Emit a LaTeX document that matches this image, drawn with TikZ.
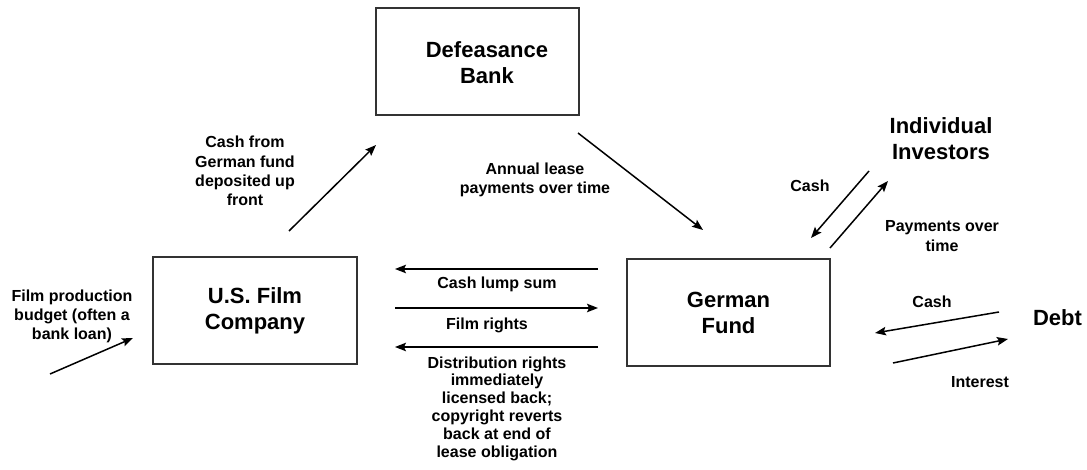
\documentclass[tikz,border=0pt]{standalone}
\usepackage{fontspec}
\setmainfont{Liberation Sans}
\usetikzlibrary{arrows.meta}
\tikzset{
  box/.style={draw=black!80, line width=1.3pt, rectangle, inner sep=0pt, align=center,
    font=\fontsize{22}{26}\selectfont\bfseries},
  big/.style={align=center, inner sep=0pt, font=\fontsize{22}{26}\selectfont\bfseries},
  small/.style={align=center, inner sep=0pt, font=\fontsize{16}{19.3}\selectfont\bfseries},
  flow/.style={draw=black, line width=1.5pt, -{Stealth[length=11pt,width=8.5pt,inset=2pt]}}
}
\begin{document}
\begin{tikzpicture}[x=1pt,y=-1pt]
\useasboundingbox (0,0) rectangle (1087,470);
% boxes
\node[box, minimum width=203pt, minimum height=107pt] (bank) at (477.5,61.5) {};
\node[big] (banktext) at (487,63) {Defeasance\\Bank};
\node[box, minimum width=204pt, minimum height=107pt] (us) at (255,310.5) {U.S. Film\\Company};
\node[box, minimum width=203pt, minimum height=107pt] (gf) at (728.5,312.5) {German\\Fund};
\node[big] (inv) at (941,138.5) {Individual\\Investors};
\node[big] (debt) at (1057.5,318) {Debt};
% labels
\node[small] (lbudget) at (72,316.5) {Film production\\budget (often a\\bank loan)};
\node[small] (lcashfrom) at (245,171) {Cash from\\German fund\\deposited up\\front};
\node[small] (llease) at (535,180) {Annual lease\\payments over time};
\node[small] (llump) at (497,284) {Cash lump sum};
\node[small] (lrights) at (487,325) {Film rights};
\node[small, font=\fontsize{16}{17.8}\selectfont\bfseries] (ldist) at (497,408.5)
  {Distribution rights\\immediately\\licensed back;\\copyright reverts\\back at end of\\lease obligation};
\node[small] (lcashinv) at (810,186) {Cash};
\node[small] (lpay) at (942,236) {Payments over\\time};
\node[small] (lcashdebt) at (932,302) {Cash};
\node[small] (linterest) at (980,382) {Interest};
% arrow end points
\coordinate (b1) at (50,374);   \coordinate (b2) at (133,338);
\coordinate (c1) at (289,231);  \coordinate (c2) at (376,145);
\coordinate (a1) at (578,133);  \coordinate (a2) at (703,230);
\coordinate (l1) at (598,269);  \coordinate (l2) at (395,269);
\coordinate (r1) at (395,308);  \coordinate (r2) at (598,308);
\coordinate (d1) at (598,347);  \coordinate (d2) at (395,347);
\coordinate (i1) at (869,171);  \coordinate (i2) at (811,238);
\coordinate (p1) at (830,248);  \coordinate (p2) at (888,181);
\coordinate (k1) at (999,312);  \coordinate (k2) at (875,333);
\coordinate (n1) at (893,363);  \coordinate (n2) at (1008,339);
% arrows
\draw[flow] (b1) -- (b2);
\draw[flow] (c1) -- (c2);
\draw[flow] (a1) -- (a2);
\draw[flow] (l1) -- (l2);
\draw[flow] (r1) -- (r2);
\draw[flow] (d1) -- (d2);
\draw[flow] (i1) -- (i2);
\draw[flow] (p1) -- (p2);
\draw[flow] (k1) -- (k2);
\draw[flow] (n1) -- (n2);
\end{tikzpicture}
\end{document}
